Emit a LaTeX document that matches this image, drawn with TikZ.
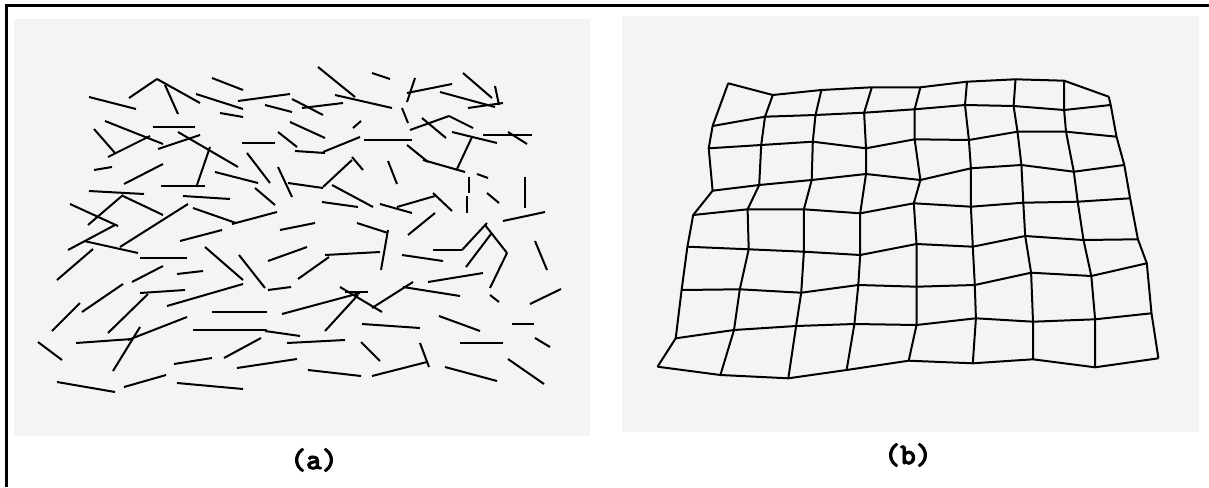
\documentclass[tikz,border=0pt]{standalone}
\usepackage{fontspec}
\newfontfamily\labelfont[FakeBold=2.5]{lmmonolt10-bold.otf}
\definecolor{panelgray}{HTML}{F4F4F4}
\begin{document}
\begin{tikzpicture}[x=1pt,y=-1pt,
  seg/.style={line width=2pt},
  gridline/.style={line width=2pt,line join=round},
  panel/.style={fill=panelgray,draw=none},
  lbl/.style={font=\labelfont\bfseries\fontsize{30}{34}\selectfont,inner sep=0pt}]
\useasboundingbox (0,0) rectangle (1209,487);
\fill[white] (0,0) rectangle (1209,487);
\draw[line width=3pt] (6,487) -- (6,5.5) -- (1209,5.5);
\path[panel] (14,19) rectangle (590,436);
\path[panel] (622,16) rectangle (1199,432);
% panel (a): random segments
\foreach \xa/\ya/\xb/\yb in {
 89/97/136/109, 129/98/157/79, 157/79/200/103, 165/85/178/114,
 105/121/163/144, 153/127/195/127, 94/129/115/153, 108/157/150/136,
 158/149/200/135, 178/132/238/167, 197/185/210/147, 161/186/205/186,
 94/170/112/167, 124/184/163/164, 89/191/144/194, 70/204/118/226,
 123/195/88/225, 123/196/163/215, 120/247/188/204, 193/208/236/223,
 232/224/277/212,
 212/78/243/90, 196/94/243/109, 220/113/243/117, 238/101/290/94,
 265/105/292/112, 292/99/323/115, 302/108/343/103, 318/67/355/97,
 335/95/392/108, 372/73/390/79, 290/122/325/138, 278/132/297/147,
 242/143/275/143, 295/151/325/153, 323/152/360/137, 353/128/361/121,
 364/140/412/140, 247/153/270/183, 215/172/258/183, 255/188/275/205,
 183/196/230/199, 278/167/292/197, 288/183/323/188, 323/187/352/160,
 352/157/363/170, 332/185/373/207, 322/202/358/207, 280/230/315/223,
 357/223/388/233,
 407/93/452/84, 415/78/407/102, 440/92/495/107, 463/73/492/98,
 495/86/499/105, 468/108/503/103, 402/108/408/123, 410/130/449/116,
 449/116/473/128, 422/118/446/138, 452/132/497/143, 483/135/532/135,
 508/132/527/144, 472/137/457/169, 407/145/428/162, 423/160/465/172,
 388/161/397/184, 469/177/469/193, 467/196/467/213, 477/174/488/178,
 487/193/499/203, 525/177/525/208, 503/221/545/212, 380/204/412/213,
 397/207/435/196, 433/193/452/211, 435/213/408/235,
 68/250/115/225, 84/241/138/253, 140/258/187/258, 57/280/93/249,
 132/282/163/266, 177/274/203/271, 180/241/222/230, 82/312/123/284,
 140/293/185/290, 52/331/80/303, 108/333/148/294, 167/306/243/284,
 38/342/62/360, 76/343/132/339, 128/340/187/317, 140/327/113/371,
 193/330/267/330, 265/331/300/336, 174/364/212/358, 57/382/115/392,
 124/387/166/375, 177/383/243/389,
 205/247/243/280, 239/255/265/288, 268/261/307/247, 268/290/291/287,
 325/255/380/252, 298/279/329/257, 388/230/381/270, 212/312/267/312,
 282/314/360/293, 340/287/382/312, 325/331/358/295, 345/292/368/292,
 224/358/261/338, 287/343/345/340, 237/368/297/359, 361/342/380/361,
 362/324/420/328, 308/370/361/376, 372/376/427/362, 420/343/429/367,
 402/255/443/261, 433/250/462/250, 462/250/487/223, 466/267/491/234,
 485/225/507/253, 507/253/490/288, 490/295/499/302, 535/241/547/270,
 428/282/483/273, 372/308/413/282, 403/287/460/296, 530/304/561/289,
 439/316/480/331, 512/324/534/324, 460/343/503/343, 535/338/550/347,
 445/367/497/381, 508/359/544/384}
 \draw[seg] (\xa,\ya) -- (\xb,\yb);
% panel (b): distorted grid
\foreach [count=\j from 0] \px/\py in {728.2/83.3,772.8/95,821.4/90,871.8/87.3,920.4/87.3,967/81.7,1015.5/79.3,1064.1/80.7,1108.7/96.7}
 \coordinate (v0\j) at (\px,\py);
\foreach [count=\j from 0] \px/\py in {712.6/126,765/116.7,815.5/115,864.1/112.7,914.6/109.3,965/105,1013.6/106,1064.1/110,1110.7/105}
 \coordinate (v1\j) at (\px,\py);
\foreach [count=\j from 0] \px/\py in {708.7/148.3,761.2/145,812.8/141.7,866/148.3,914.6/139.3,968.9/140,1017.5/131.7,1066/131.7,1116.5/136.7}
 \coordinate (v2\j) at (\px,\py);
\foreach [count=\j from 0] \px/\py in {712.6/190.7,759.2/185,811.7/180,866/174,920.4/180,970.9/168.3,1021.4/165,1073.8/171.7,1124.3/165}
 \coordinate (v3\j) at (\px,\py);
\foreach [count=\j from 0] \px/\py in {693.2/215,747.6/209.3,803.9/209.3,860.2/213.3,913.8/203.3,970.9/206.7,1023.3/202.7,1077.7/201.7,1130.1/198.3}
 \coordinate (v4\j) at (\px,\py);
\foreach [count=\j from 0] \px/\py in {687.4/246.7,748.7/249.3,803.9/251.7,860.2/255,916.5/244,972.8/246.7,1025.2/236,1083.5/240,1137.9/239.3}
 \coordinate (v5\j) at (\px,\py);
\foreach [count=\j from 0] \px/\py in {681.6/290,739.8/289.3,801.2/292.7,858.3/285,916.5/286.7,974.8/285,1031.1/272.7,1091.3/276,1146.8/263.3}
 \coordinate (v6\j) at (\px,\py);
\foreach [count=\j from 0] \px/\py in {675.7/338.3,734/330,796.1/326,854.4/324,916.5/325,975.9/318.3,1033/321.7,1095.1/319.3,1151.5/313.3}
 \coordinate (v7\j) at (\px,\py);
\foreach [count=\j from 0] \px/\py in {657.5/366.7,720.4/375,788.3/378.3,846.6/370,908.7/360.7,972.8/363.3,1033/359.3,1095.1/367.3,1158.4/358.3}
 \coordinate (v8\j) at (\px,\py);
\foreach \i in {0,...,8}
 \draw[gridline] (v\i0) \foreach \j in {1,...,8} { -- (v\i\j) };
\foreach \j in {0,...,8}
 \draw[gridline] (v0\j) \foreach \i in {1,...,8} { -- (v\i\j) };
% labels
\node[lbl] (la) at (314,460) {(a)};
\node[lbl] (lb) at (908,455) {(b)};
\end{tikzpicture}
\end{document}
